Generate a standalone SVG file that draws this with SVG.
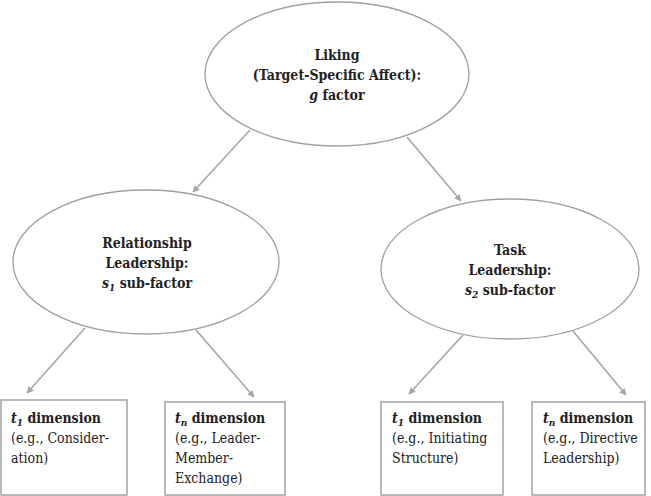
<svg xmlns="http://www.w3.org/2000/svg" width="651" height="496" viewBox="0 0 651 496">
<style>
.shape{fill:#fff;stroke:#a0a0a0;stroke-width:1.3}
.box{fill:#fff;stroke:#a8a8a8;stroke-width:1.6}
.conn{stroke:#a6a6a6;stroke-width:1.6;fill:none;marker-end:url(#ah)}
text{font-family:'DejaVu Serif Condensed','DejaVu Serif',serif;font-stretch:condensed;font-size:14px;fill:#222}
.b{font-weight:bold}
.c{text-anchor:middle}
.i{font-style:italic}
.sub{font-size:10px}
</style>
<defs>
<marker id="ah" viewBox="0 0 10 10" refX="9" refY="5" markerWidth="7" markerHeight="7" orient="auto" markerUnits="userSpaceOnUse">
<path d="M0,0 L10,5 L0,10 z" fill="#a6a6a6"/>
</marker>
</defs>
<g id="connectors">
<line class="conn" x1="250" y1="130" x2="193" y2="192"/>
<line class="conn" x1="407" y1="137" x2="461" y2="201"/>
<line class="conn" x1="85" y1="328" x2="27" y2="393"/>
<line class="conn" x1="196" y1="330" x2="254" y2="397"/>
<line class="conn" x1="463" y1="335" x2="409" y2="394"/>
<line class="conn" x1="573" y1="331" x2="626" y2="395"/>
</g>
<g id="g-factor">
<ellipse class="shape" cx="337" cy="74" rx="132" ry="72"/>
<text class="b c" x="337" y="60">Liking</text>
<text class="b c" x="337" y="80">(Target-Specific Affect):</text>
<text class="b c" x="337" y="100"><tspan class="i">g</tspan> factor</text>
</g>
<g id="s1">
<ellipse class="shape" cx="146" cy="262" rx="133" ry="72"/>
<text class="b c" x="147" y="248">Relationship</text>
<text class="b c" x="147" y="268">Leadership:</text>
<text class="b c" x="147" y="288"><tspan class="i">s</tspan><tspan class="i sub" dy="3">1</tspan><tspan dy="-3"> sub-factor</tspan></text>
</g>
<g id="s2">
<ellipse class="shape" cx="510" cy="269" rx="129" ry="70"/>
<text class="b c" x="510" y="255">Task</text>
<text class="b c" x="510" y="275">Leadership:</text>
<text class="b c" x="510" y="295"><tspan class="i">s</tspan><tspan class="i sub" dy="3">2</tspan><tspan dy="-3"> sub-factor</tspan></text>
</g>
<g id="t1-rel">
<rect class="box" x="1" y="400" width="126" height="95"/>
<text x="11" y="423"><tspan class="b i">t</tspan><tspan class="b i sub" dy="3">1</tspan><tspan class="b" dy="-3"> dimension</tspan></text>
<text x="11" y="443">(e.g., Consider-</text>
<text x="11" y="463">ation)</text>
</g>
<g id="tn-rel">
<rect class="box" x="165" y="402" width="120" height="93"/>
<text x="175" y="423"><tspan class="b i">t</tspan><tspan class="b i sub" dy="3">n</tspan><tspan class="b" dy="-3"> dimension</tspan></text>
<text x="175" y="443">(e.g., Leader-</text>
<text x="175" y="463">Member-</text>
<text x="175" y="483">Exchange)</text>
</g>
<g id="t1-task">
<rect class="box" x="381" y="402" width="122" height="93"/>
<text x="392" y="423"><tspan class="b i">t</tspan><tspan class="b i sub" dy="3">1</tspan><tspan class="b" dy="-3"> dimension</tspan></text>
<text x="392" y="443">(e.g., Initiating</text>
<text x="392" y="463">Structure)</text>
</g>
<g id="tn-task">
<rect class="box" x="532" y="402" width="113" height="93"/>
<text x="543" y="423"><tspan class="b i">t</tspan><tspan class="b i sub" dy="3">n</tspan><tspan class="b" dy="-3"> dimension</tspan></text>
<text x="543" y="443">(e.g., Directive</text>
<text x="543" y="463">Leadership)</text>
</g>
</svg>
